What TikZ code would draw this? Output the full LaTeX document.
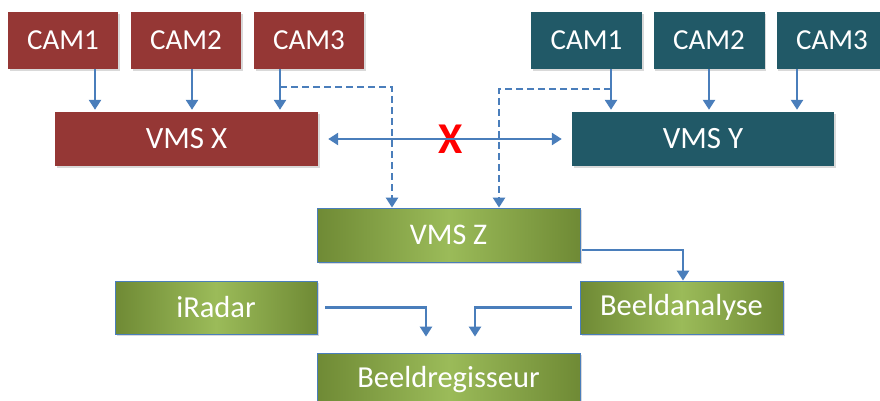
\documentclass[tikz,border=0pt]{standalone}
\usepackage{fontspec}
\setmainfont{Carlito}
\definecolor{mRed}{HTML}{953735}
\definecolor{mTeal}{HTML}{215967}
\definecolor{mBlue}{HTML}{4A7EBB}
\definecolor{mGreenDark}{HTML}{6F8A35}
\definecolor{mGreenLight}{HTML}{9BBB59}
\usetikzlibrary{calc, positioning, arrows.meta, shadows}

\begin{document}
\begin{tikzpicture}
		[x=1pt, y=-1pt,
		block/.style ={rectangle, fill=mRed, minimum width=110pt, minimum height=57pt, font=\fontsize{29}{30}\selectfont, drop shadow={opacity=0.3, shadow xshift=1.5pt, shadow yshift=-2pt}},
		block2/.style ={rectangle, fill=mTeal, minimum width=111pt, minimum height=57pt, font=\fontsize{29}{30}\selectfont, drop shadow={opacity=0.3, shadow xshift=1.5pt, shadow yshift=-2pt}},
		block3/.style ={rectangle, draw=mBlue, line width=0.8pt, left color=mGreenDark, right color=mGreenDark, middle color=mGreenLight, minimum width=263pt, minimum height=54pt, font=\fontsize{30.5}{32}\selectfont, drop shadow={opacity=0.3, shadow xshift=1.5pt, shadow yshift=-2pt}},
		link/.style ={draw=mBlue, line width=2.8pt, -{Triangle[length=10pt, width=12pt]}}]
		\useasboundingbox (0,0) rectangle (880,401);

		\draw (63,40.5) node[block] (xc1) {\textcolor{white}{CAM1}};
		\draw (186,40.5) node[block] (xc2) {\textcolor{white}{CAM2}};
		\draw (309,40.5) node[block] (xc3) {\textcolor{white}{CAM3}};
		\draw (186.5,139) node[block, minimum width=263pt, minimum height=54pt, font=\fontsize{31}{32}\selectfont] (vmsx) {\textcolor{white}{VMS X}};

		\draw (586.5,40.5) node[block2] (yc1) {\textcolor{white}{CAM1}};
		\draw (709,40.5) node[block2] (yc2) {\textcolor{white}{CAM2}};
		\draw (832,40.5) node[block2] (yc3) {\textcolor{white}{CAM3}};
		\draw (703,139) node[block2, minimum width=262pt, minimum height=54pt, font=\fontsize{31}{32}\selectfont] (vmsy) {\textcolor{white}{VMS Y}};

		\draw (448.5,235) node[block3, font=\fontsize{30}{32}\selectfont] (vmsz) {\textcolor{white}{VMS Z}};
		\draw (216,307.5) node[block3, minimum width=202pt, minimum height=53pt] (iradar) {\textcolor{white}{iRadar}};
		\draw (681.5,307.5) node[block3, minimum width=203pt, minimum height=53pt] (analyse) {\textcolor{white}{Beeldanalyse}};
		\draw (448.5,380) node[block3] (regie) {\textcolor{white}{Beeldregisseur}};

		\draw (451,139) node[text=red, font=\bfseries\fontsize{44}{44}\selectfont] (cut) {X};

		\draw[link, shorten >=2pt] (xc1.south -| 95,0) -- (vmsx.north -| 95,0);
		\draw[link, shorten >=2pt] (xc2.south -| 192,0) -- (vmsx.north -| 192,0);
		\draw[link, shorten >=2pt] (xc3.south -| 280,0) -- (vmsx.north -| 280,0);
		\draw[link, shorten >=2pt] (yc1.south -| 611,0) -- (vmsy.north -| 611,0);
		\draw[link, shorten >=2pt] (yc2.south -| 709,0) -- (vmsy.north -| 709,0);
		\draw[link, shorten >=2pt] (yc3.south -| 797,0) -- (vmsy.north -| 797,0);

		\coordinate (xsplit) at (280,87);
		\coordinate (ysplit) at (611,89);
		\draw[link, dash pattern=on 7pt off 4pt] (xsplit) -| (vmsz.north -| 392,0);
		\draw[link, dash pattern=on 7pt off 4pt] (ysplit) -| (vmsz.north -| 499,0);

		\draw[link, {Triangle[length=10pt, width=12pt]}-{Triangle[length=10pt, width=12pt]}, shorten <=10pt, shorten >=10pt] (vmsx.east) -- (vmsy.west);

		\draw[link, shorten <=2pt] (vmsz.east |- 0,250) -| (analyse.north -| 683,0);
		\draw[link, shorten <=8pt, shorten >=16pt] (iradar.east) -| (regie.north -| 426,0);
		\draw[link, shorten <=8pt, shorten >=16pt] (analyse.west) -| (regie.north -| 475,0);

	\end{tikzpicture}
\end{document}
